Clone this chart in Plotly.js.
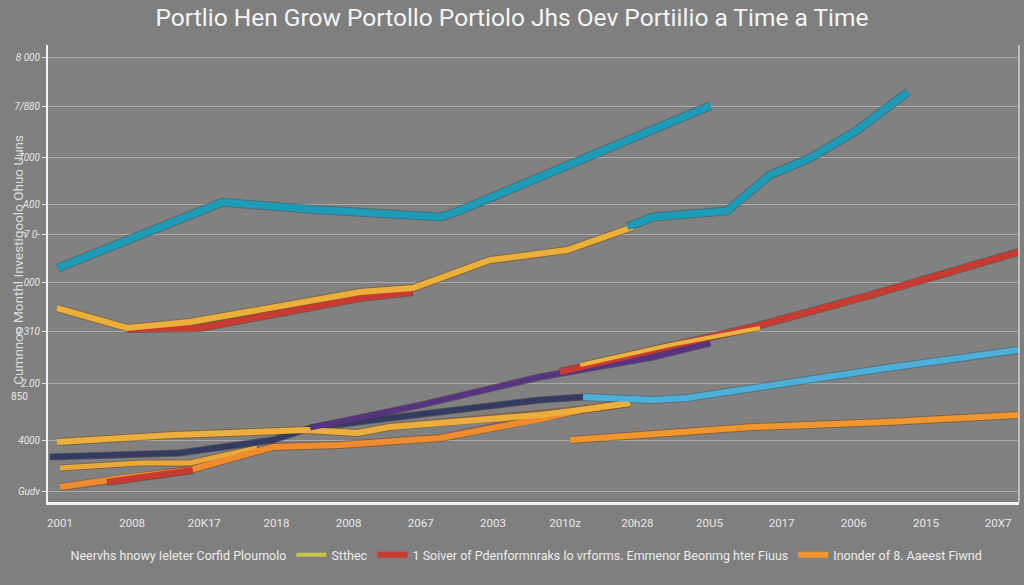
<!DOCTYPE html>
<html>
<head>
<meta charset="utf-8">
<script src="https://cdn.plot.ly/plotly-3.0.1.min.js"></script>
<style>html,body{margin:0;padding:0;background:#7f7f7f;}#chart{width:1024px;height:585px;}</style>
</head>
<body>
<div id="chart"></div>
<script>
// ---- tick labels ----
const xTickVals = [0,1,2,3,4,5,6,7,8,9,10,11,12,13];
const xTickText = ["2001","2008","20K17","2018","2008","2067","2003","2010z","20h28","20U5","2017","2006","2015","20X7"];
const yTickVals = [3456,4000,4597,5141,5654,6157,6471,6963,7487,8000];
const yTickText = ["Gudv","4000","2.00","0.310","000","7 0-","A00","7000","7/880","8 000"];

// ---- series (x = position along the year axis, y = portfolio value) ----
const tealAX = [-0.03, 2.25, 3.56, 4.71, 5.27, 5.50, 9.01];
const tealAY = [5800, 6490, 6410, 6370, 6335, 6390, 7500];
const tealBX = [7.86, 8.22, 9.24, 9.84, 10.40, 11.05, 11.75];
const tealBY = [6230, 6335, 6398, 6775, 6953, 7246, 7644];

const goldX = [-0.04, 0.93, 1.80, 3.42, 4.16, 4.89, 5.96, 7.03, 7.94];
const goldY = [5382, 5173, 5235, 5445, 5550, 5591, 5885, 5989, 6230];

const redX = [0.65, 1.84, null, 0.93, 1.94, 3.42, 4.16, 4.89, null, 6.93, 8.59, 9.60, 11.19, 13.28];
const redY = [3560, 3686, null, 5162, 5173, 5382, 5487, 5550, null, 4712, 4995, 5183, 5508, 5968];

const purpleX = [3.47, 4.99, 6.65, 8.22, 9.01];
const purpleY = [4126, 4366, 4660, 4869, 5016];

const navyX = [-0.14, 1.66, 2.95, 3.47, 4.57, 6.65, 7.25];
const navyY = [3822, 3864, 4000, 4126, 4230, 4419, 4450];

const skyX = [7.25, 8.22, 8.69, 9.88, 11.46, 13.28];
const skyY = [4450, 4419, 4440, 4576, 4754, 4942];

const midGoldX = [-0.04, 1.57, 3.42, 4.12, 4.57, 6.65, 7.21, 7.90];
const midGoldY = [3979, 4052, 4105, 4073, 4136, 4262, 4314, 4387];

const upGoldX = [7.21, 8.45, 9.70];
const upGoldY = [4785, 4995, 5173];

const lowGoldX = [0.00, 1.11, 1.80, 2.73];
const lowGoldY = [3707, 3759, 3759, 3916];

const orangeAX = [0.00, 0.87, 1.80, 2.95, 3.88, 5.27, 6.65, 7.21, 7.90];
const orangeAY = [3508, 3602, 3686, 3927, 3948, 4021, 4220, 4314, 4387];

const orangeBX = [7.07, 9.60, 11.46, 13.28];
const orangeBY = [4000, 4136, 4188, 4262];

const legendNames = [
  "Neervhs hnowy Ieleter Corfid Ploumolo",
  "Stthec",
  "1 Soiver of Pdenformnraks lo vrforms. Emmenor Beonmg hter Fiuus",
  "Inonder of 8. Aaeest Fiwnd"
];

const outlines = [];
const mains = [];
function ln(x, y, color, width, edge, extra) {
  outlines.push({type:"scatter", mode:"lines", x:x, y:y, connectgaps:false,
    line:{color:edge, width:width+2}, showlegend:false, hoverinfo:"skip"});
  const t = Object.assign({type:"scatter", mode:"lines", x:x, y:y, connectgaps:false,
    line:{color:color, width:width}, showlegend:false, hoverinfo:"skip"}, extra||{});
  mains.push(t);
  return t;
}

ln(lowGoldX, lowGoldY, "#e9a93a", 5, "rgba(120,80,30,0.55)");
ln(orangeAX, orangeAY, "#ef8c30", 6, "rgba(130,70,25,0.55)");
ln(navyX, navyY, "#343a62", 5, "rgba(30,30,50,0.5)");
ln(midGoldX, midGoldY, "#ecae3c", 6, "rgba(120,80,30,0.55)");
ln(purpleX, purpleY, "#583382", 5, "rgba(50,30,70,0.5)");
ln(redX, redY, "#c83b33", 6, "rgba(110,40,30,0.5)", {name:legendNames[2], showlegend:true, legendrank:3});
ln(upGoldX, upGoldY, "#ecb23e", 4, "rgba(120,80,30,0.55)");
ln(goldX, goldY, "#ebb03c", 6, "rgba(130,85,30,0.6)");
ln(skyX, skyY, "#4eb0d8", 6, "rgba(40,100,130,0.5)");
ln(orangeBX, orangeBY, "#f0962f", 6, "rgba(130,75,25,0.55)", {name:legendNames[3], showlegend:true, legendrank:4});
ln(tealAX, tealAY, "#1d9bb6", 7, "rgba(20,90,110,0.5)");
ln(tealBX, tealBY, "#1d9bb6", 7, "rgba(20,90,110,0.5)");

const legendOnly = [
  {type:"scatter", mode:"lines", x:[null], y:[null], name:legendNames[0], showlegend:true, legendrank:1,
   line:{color:"rgba(0,0,0,0)", width:4}, hoverinfo:"skip"},
  {type:"scatter", mode:"lines", x:[null], y:[null], name:legendNames[1], showlegend:true, legendrank:2,
   line:{color:"#c9c54a", width:4}, hoverinfo:"skip"}
];

const traces = outlines.concat(mains, legendOnly);

const fam = "Roboto, 'Open Sans', sans-serif";
const layout = {
  width:1024, height:585,
  paper_bgcolor:"#7f7f7f", plot_bgcolor:"#818181",
  margin:{l:48, r:5, t:45, b:83},
  font:{family:fam, color:"#e6e6e6"},
  title:{text:"Portlio Hen Grow Portollo Portiolo Jhs Oev Portiilio a Time a Time",
    x:0.5, xref:"container", xanchor:"center", y:0.985, yanchor:"top", font:{size:24.5, color:"#f4f4f4", family:fam, weight:400}},
  xaxis:{range:[-0.166, 13.29], tickvals:xTickVals, ticktext:xTickText, showgrid:false, zeroline:false,
    showline:true, linecolor:"#f2f2f2", linewidth:3, ticks:"", ticklabelstandoff:8,
    tickfont:{size:11.5, color:"#e8e8e8"}, fixedrange:true},
  yaxis:{range:[3351, 8136], tickvals:yTickVals, ticktext:yTickText, showgrid:true, gridcolor:"#a9a9a9", gridwidth:1,
    zeroline:false, showline:true, linecolor:"#f2f2f2", linewidth:2, ticks:"outside", ticklen:4, tickcolor:"#e8e8e8",
    tickfont:{size:10, color:"#e6e6e6", style:"italic"}, fixedrange:true},
  showlegend:true,
  legend:{orientation:"h", x:-0.018, xanchor:"left", y:-0.116, yanchor:"middle", bgcolor:"rgba(0,0,0,0)",
    font:{size:12.5, color:"#ececec"}, itemwidth:30, tracegroupgap:0},
  annotations:[
    {text:"Cumnnoo Monthl Investigoolo Ohuo Uuns", textangle:-90, xref:"paper", yref:"paper",
     x:-0.031, y:0.53, xanchor:"center", yanchor:"middle", showarrow:false, font:{size:13.5, color:"#dcdcdc"}},
    {text:"850", xref:"paper", yref:"paper", x:-0.04, y:(502-396)/457, xanchor:"left", yanchor:"middle",
     showarrow:false, font:{size:10, color:"#e6e6e6"}}
  ],
  shapes:[
    {type:"line", xref:"paper", yref:"paper", x0:1, x1:1, y0:0, y1:1, line:{color:"#bdbdbd", width:2}}
  ]
};

Plotly.newPlot("chart", traces, layout, {displayModeBar:false, staticPlot:true});
</script>
</body>
</html>
